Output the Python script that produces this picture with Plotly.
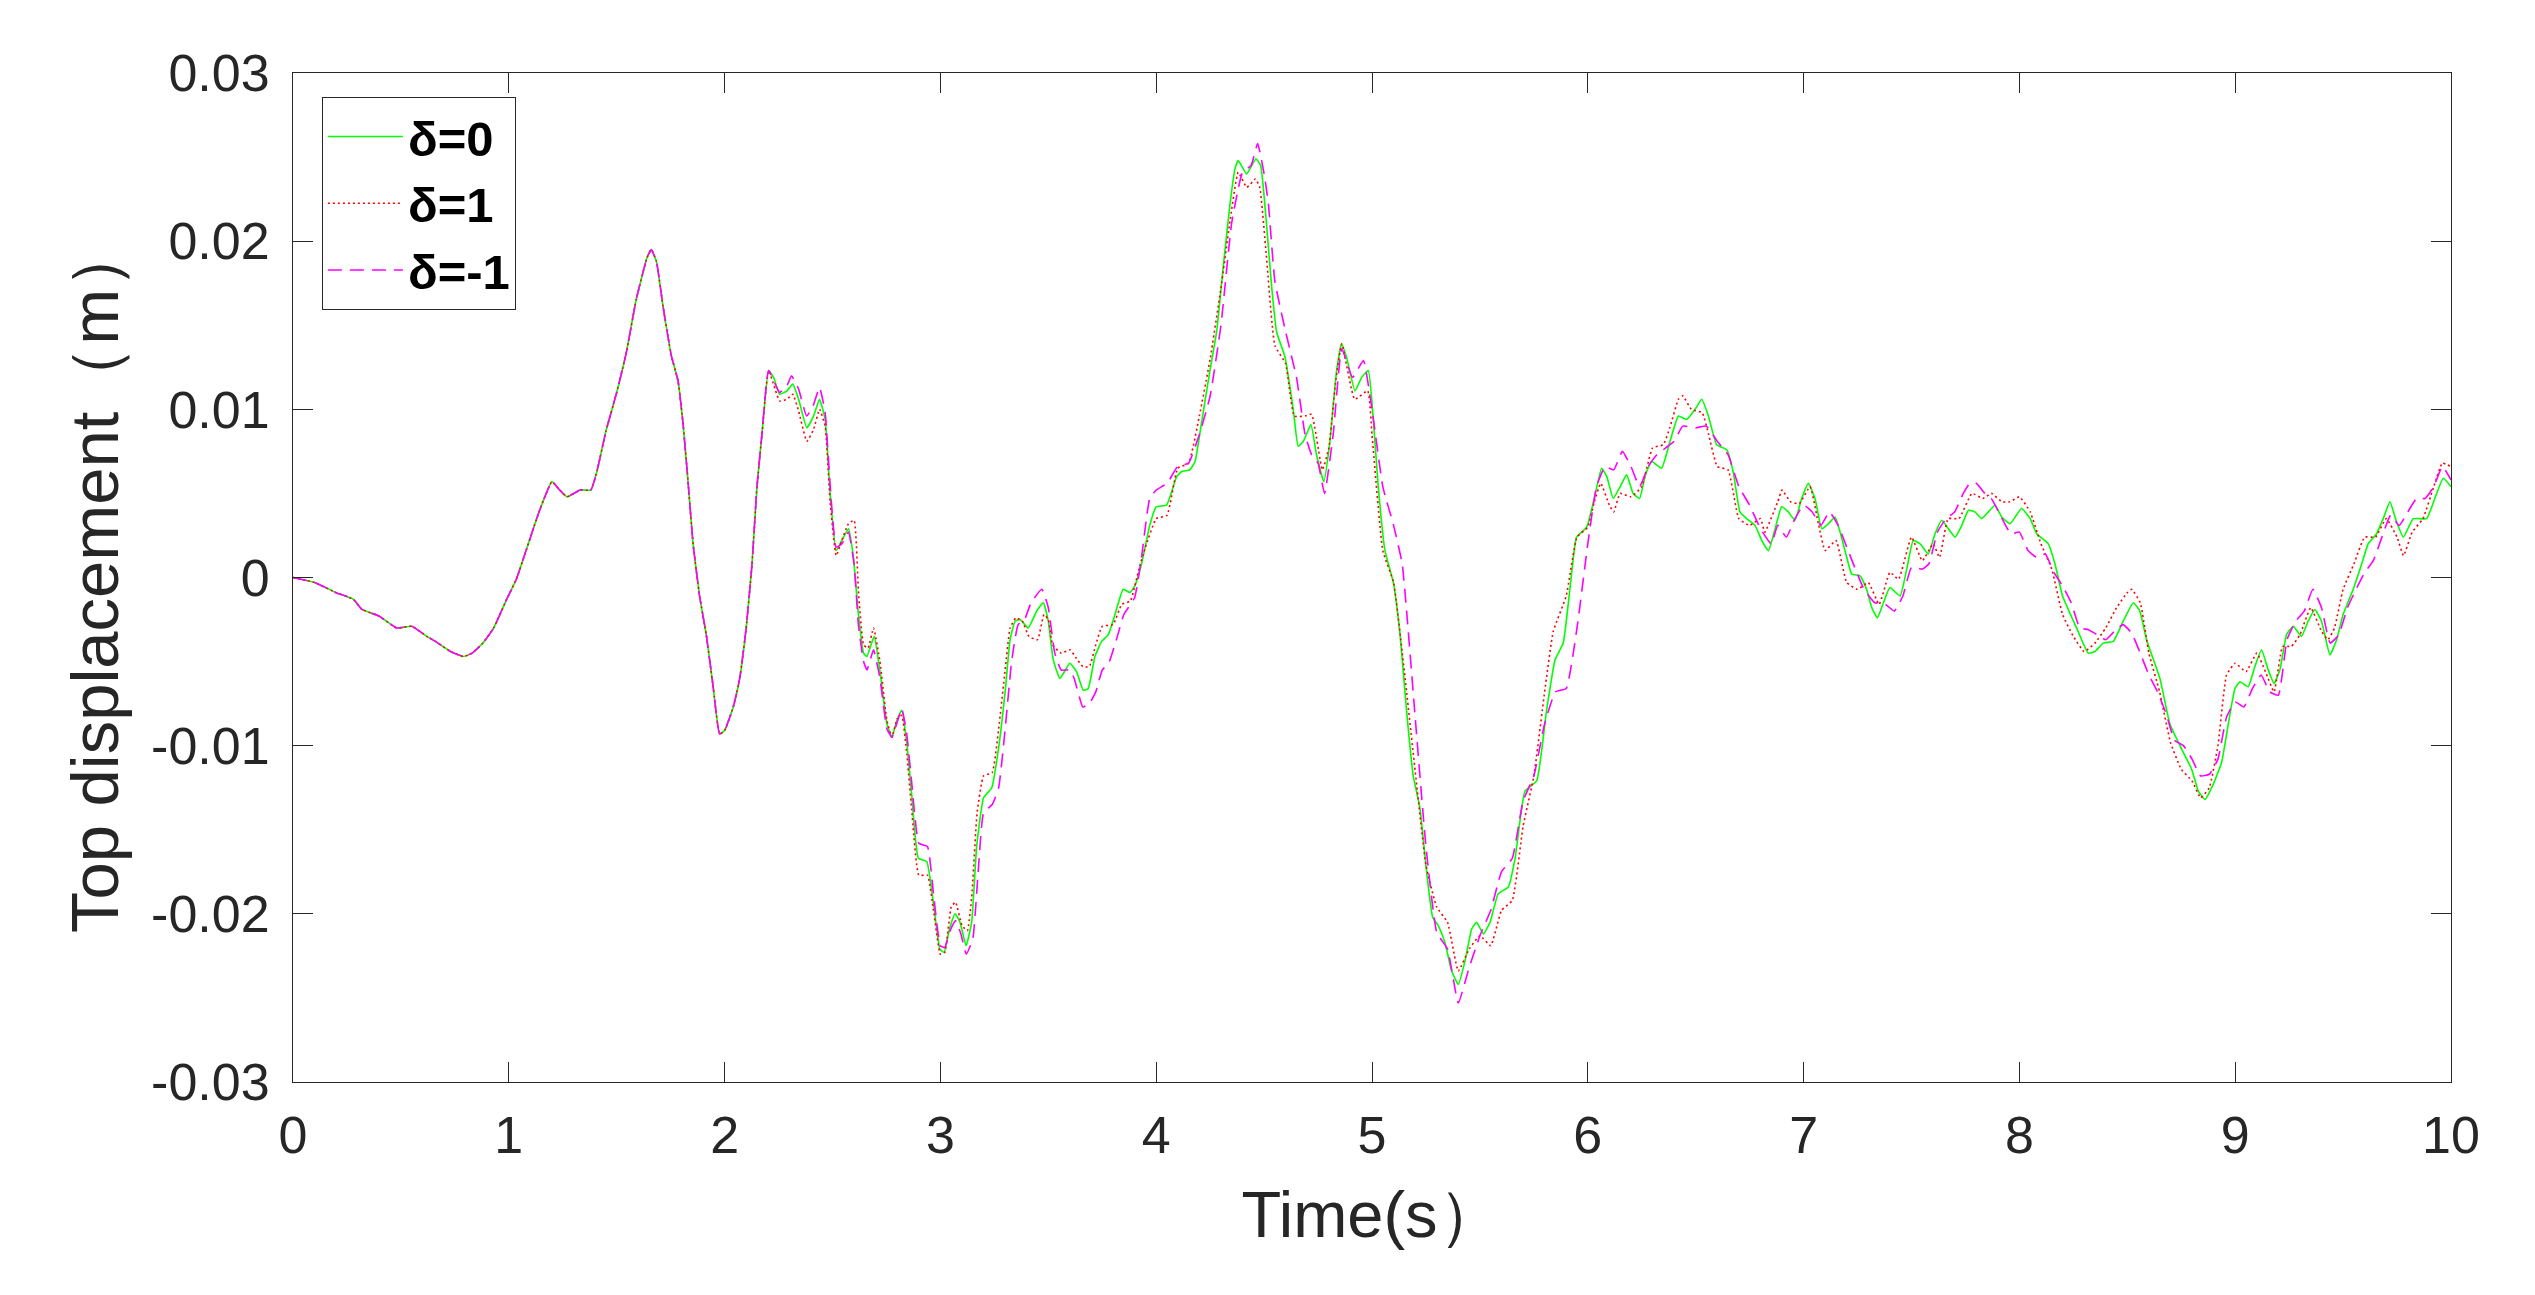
import plotly.graph_objects as go

# ---- data ----
# segment 0 - 2.2 s where all three curves coincide
t_early = [0, 0.1, 0.2, 0.28, 0.32, 0.4, 0.48, 0.55, 0.62, 0.66, 0.73, 0.79, 0.83, 0.88, 0.93, 0.99,
           1.035, 1.08, 1.14, 1.2, 1.236, 1.27, 1.33, 1.38, 1.41, 1.45, 1.5, 1.545, 1.59, 1.64, 1.66,
           1.684, 1.715, 1.753, 1.784, 1.807, 1.83, 1.854, 1.884, 1.915, 1.946, 1.977, 2.0, 2.04, 2.07,
           2.10, 2.127, 2.15, 2.173]
y_early = [0, -0.0003, -0.0009, -0.0013, -0.0019, -0.0023, -0.003, -0.0029, -0.0035, -0.0038, -0.0044,
           -0.0047, -0.0045, -0.0039, -0.003, -0.0013, -0.0001, 0.0016, 0.0039, 0.0057, 0.0052, 0.0048,
           0.0052, 0.0052, 0.0064, 0.0087, 0.011, 0.0134, 0.0165, 0.019, 0.0195, 0.0188, 0.0161, 0.0132,
           0.0117, 0.0092, 0.0058, 0.002, -0.0011, -0.0034, -0.0064, -0.0093, -0.0091, -0.0077, -0.006,
           -0.003, 0.0008, 0.0054, 0.0085]

# delta = 0 (green, solid)
t_d0 = [2.204, 2.227, 2.255, 2.289, 2.316, 2.343, 2.381, 2.412, 2.44, 2.466, 2.489, 2.517, 2.543, 2.574,
        2.597, 2.62, 2.644, 2.659, 2.693, 2.72, 2.752, 2.775, 2.798, 2.821, 2.844, 2.867, 2.898, 2.937,
        2.968, 2.998, 3.017, 3.042, 3.068, 3.091, 3.119, 3.145, 3.168, 3.2, 3.238, 3.269, 3.3, 3.323,
        3.346, 3.369, 3.407, 3.446, 3.477, 3.5, 3.523, 3.554, 3.6, 3.631, 3.662, 3.685, 3.716, 3.747,
        3.778, 3.809, 3.847, 3.878, 3.901, 3.932, 3.97, 4.0, 4.048, 4.095, 4.118, 4.156, 4.18, 4.21,
        4.249, 4.28, 4.31, 4.342, 4.365, 4.38, 4.419, 4.462, 4.484, 4.508, 4.535, 4.558, 4.597, 4.635,
        4.658, 4.682, 4.717, 4.743, 4.777, 4.805, 4.836, 4.859, 4.882, 4.921, 4.952, 4.983, 5.006, 5.029,
        5.06, 5.099, 5.13, 5.16, 5.191, 5.222, 5.253, 5.281, 5.307, 5.338, 5.369, 5.4, 5.431, 5.462,
        5.485, 5.516, 5.547, 5.585, 5.632, 5.663, 5.709, 5.763, 5.809, 5.848, 5.886, 5.917, 5.948, 5.995,
        6.03, 6.064, 6.088, 6.118, 6.15, 6.18, 6.21, 6.24, 6.265, 6.296, 6.342, 6.381, 6.42, 6.458,
        6.497, 6.528, 6.559, 6.597, 6.644, 6.675, 6.705, 6.736, 6.775, 6.806, 6.837, 6.868, 6.898, 6.929,
        6.96, 6.991, 7.022, 7.053, 7.084, 7.115, 7.146, 7.169, 7.2, 7.223, 7.262, 7.292, 7.316, 7.342,
        7.37, 7.4, 7.447, 7.478, 7.508, 7.54, 7.578, 7.609, 7.64, 7.671, 7.702, 7.733, 7.764, 7.794,
        7.825, 7.856, 7.887, 7.918, 7.957, 8.01, 8.05, 8.08, 8.134, 8.165, 8.2, 8.265, 8.319, 8.35,
        8.388, 8.435, 8.481, 8.528, 8.558, 8.589, 8.651, 8.697, 8.744, 8.798, 8.829, 8.86, 8.898, 8.937,
        8.968, 8.999, 9.022, 9.06, 9.091, 9.122, 9.153, 9.18, 9.207, 9.238, 9.269, 9.307, 9.338, 9.369,
        9.4, 9.439, 9.47, 9.5, 9.547, 9.586, 9.616, 9.655, 9.686, 9.717, 9.748, 9.779, 9.825, 9.887,
        9.925, 9.964, 10.0]
y_d0 = [0.0123, 0.0119, 0.0109, 0.0111, 0.0115, 0.0106, 0.0089, 0.0096, 0.0106, 0.0094, 0.005, 0.0016,
        0.0022, 0.0029, 0.0012, -0.0022, -0.0045, -0.0047, -0.0035, -0.0056, -0.0087, -0.0095, -0.0085,
        -0.0079, -0.0098, -0.0129, -0.0167, -0.0169, -0.0194, -0.0221, -0.0223, -0.0209, -0.02, -0.0205,
        -0.0219, -0.0205, -0.016, -0.0131, -0.0125, -0.0102, -0.0068, -0.0037, -0.0026, -0.0025, -0.003,
        -0.002, -0.0015, -0.0026, -0.0049, -0.006, -0.0051, -0.0056, -0.0067, -0.0066, -0.0047, -0.0038,
        -0.0034, -0.0022, -0.0007, -0.0009, -0.0005, 0.0008, 0.0031, 0.0042, 0.0043, 0.006, 0.0063,
        0.0064, 0.0069, 0.0092, 0.0123, 0.0146, 0.0184, 0.0222, 0.0243, 0.0248, 0.024, 0.0249, 0.0245,
        0.0215, 0.0173, 0.0146, 0.0131, 0.01, 0.0078, 0.0081, 0.0091, 0.0073, 0.0057, 0.0081, 0.0123,
        0.0139, 0.0131, 0.0111, 0.0119, 0.0123, 0.0094, 0.0054, 0.0016, -0.0003, -0.0034, -0.0079,
        -0.0118, -0.0137, -0.0175, -0.0202, -0.0207, -0.0217, -0.0234, -0.0242, -0.0228, -0.0209,
        -0.0205, -0.0212, -0.0205, -0.0188, -0.0184, -0.0167, -0.0127, -0.0121, -0.0079, -0.0049,
        -0.0039, -0.0007, 0.0024, 0.003, 0.0047, 0.0065, 0.006, 0.0047, 0.0054, 0.0061, 0.005, 0.0047,
        0.006, 0.0069, 0.0065, 0.0081, 0.0096, 0.0094, 0.01, 0.0106, 0.0096, 0.0079, 0.0076, 0.0062,
        0.0039, 0.0035, 0.0031, 0.0022, 0.0016, 0.0029, 0.0042, 0.0039, 0.0034, 0.0047, 0.0056, 0.0047,
        0.0029, 0.0032, 0.0036, 0.0027, 0.0012, 0.0002, 0.0001, -0.0007, -0.0018, -0.0024, -0.0015,
        -0.0006, -0.0011, 0.0005, 0.0022, 0.002, 0.0014, 0.0026, 0.0034, 0.0029, 0.0024, 0.0031, 0.004,
        0.0039, 0.0035, 0.0039, 0.0043, 0.0036, 0.0032, 0.0041, 0.0035, 0.0026, 0.002, 0.0008, -0.0011,
        -0.003, -0.0045, -0.0044, -0.0039, -0.0038, -0.0026, -0.0015, -0.002, -0.0037, -0.006, -0.0087,
        -0.01, -0.0114, -0.0127, -0.0132, -0.0123, -0.011, -0.0087, -0.0066, -0.0062, -0.0065, -0.0053,
        -0.0043, -0.0055, -0.0063, -0.0055, -0.0034, -0.0029, -0.0035, -0.0026, -0.0019, -0.0026,
        -0.0046, -0.0037, -0.0022, -0.0007, 0.0008, 0.002, 0.0026, 0.0035, 0.0045, 0.0033, 0.0024,
        0.0035, 0.0035, 0.0047, 0.0059, 0.0054]

# delta = 1 (red, dotted)
t_d1 = [2.204, 2.255, 2.289, 2.316, 2.343, 2.381, 2.412, 2.44, 2.466, 2.489, 2.517, 2.543, 2.574, 2.6,
        2.62, 2.644, 2.665, 2.69, 2.72, 2.752, 2.775, 2.8, 2.821, 2.844, 2.867, 2.9, 2.94, 2.968, 3.0,
        3.02, 3.05, 3.07, 3.1, 3.125, 3.145, 3.17, 3.2, 3.24, 3.27, 3.3, 3.323, 3.35, 3.38, 3.41, 3.45,
        3.48, 3.5, 3.52, 3.56, 3.6, 3.63, 3.66, 3.69, 3.72, 3.75, 3.8, 3.84, 3.88, 3.92, 3.95, 4.0,
        4.05, 4.1, 4.15, 4.2, 4.25, 4.3, 4.34, 4.38, 4.42, 4.46, 4.48, 4.51, 4.55, 4.6, 4.64, 4.69,
        4.72, 4.77, 4.8, 4.83, 4.86, 4.92, 4.98, 5.0, 5.05, 5.1, 5.15, 5.2, 5.25, 5.3, 5.35, 5.4, 5.45,
        5.5, 5.55, 5.6, 5.65, 5.7, 5.75, 5.8, 5.84, 5.9, 5.95, 6.0, 6.03, 6.06, 6.1, 6.12, 6.15, 6.2,
        6.25, 6.3, 6.35, 6.38, 6.42, 6.44, 6.48, 6.53, 6.56, 6.6, 6.65, 6.7, 6.75, 6.8, 6.82, 6.88, 6.9,
        6.94, 6.98, 7.03, 7.07, 7.1, 7.15, 7.2, 7.25, 7.3, 7.35, 7.4, 7.44, 7.5, 7.55, 7.6, 7.63, 7.67,
        7.72, 7.78, 7.83, 7.87, 7.92, 7.956, 8.0, 8.05, 8.1, 8.15, 8.2, 8.25, 8.3, 8.35, 8.4, 8.45, 8.5,
        8.52, 8.56, 8.6, 8.65, 8.7, 8.75, 8.8, 8.84, 8.88, 8.92, 8.96, 9.0, 9.05, 9.1, 9.14, 9.18, 9.22,
        9.26, 9.3, 9.35, 9.4, 9.43, 9.46, 9.5, 9.55, 9.6, 9.65, 9.7, 9.75, 9.78, 9.82, 9.87, 9.92, 9.96,
        10.0]
y_d1 = [0.0123, 0.0105, 0.0106, 0.0109, 0.0099, 0.0081, 0.0088, 0.01, 0.009, 0.0045, 0.0013, 0.0022,
        0.0032, 0.0034, -0.0008, -0.004, -0.0042, -0.003, -0.005, -0.0085, -0.0095, -0.0084, -0.0082,
        -0.0105, -0.0138, -0.0177, -0.0177, -0.0198, -0.0224, -0.0223, -0.0196, -0.0193, -0.0207,
        -0.021, -0.019, -0.014, -0.0118, -0.0116, -0.009, -0.0055, -0.003, -0.0024, -0.0026, -0.0035,
        -0.0037, -0.0022, -0.0025, -0.004, -0.0045, -0.0043, -0.0048, -0.0053, -0.0053, -0.004, -0.0029,
        -0.0028, -0.0016, -0.0014, 0.0005, 0.0018, 0.0035, 0.0037, 0.0065, 0.0068, 0.0096, 0.013, 0.0172,
        0.021, 0.0241, 0.0232, 0.0237, 0.0232, 0.0192, 0.0138, 0.0127, 0.0096, 0.0096, 0.0097, 0.0064,
        0.0077, 0.0115, 0.0139, 0.0106, 0.0111, 0.0085, 0.0016, -0.0003, -0.0056, -0.0115, -0.0171,
        -0.0196, -0.0205, -0.0234, -0.0221, -0.0213, -0.0219, -0.0198, -0.0192, -0.0148, -0.0118,
        -0.0068, -0.0032, -0.0011, 0.0024, 0.003, 0.0045, 0.0056, 0.0043, 0.0039, 0.005, 0.0048, 0.0054,
        0.0077, 0.0079, 0.0089, 0.0106, 0.0108, 0.01, 0.0098, 0.0085, 0.0066, 0.0064, 0.0035, 0.0031,
        0.0035, 0.0027, 0.0045, 0.0052, 0.0045, 0.0044, 0.0054, 0.0031, 0.0016, 0.0022, -0.0003,
        -0.0007, -0.0003, -0.0016, 0.0003, -0.0001, 0.0024, 0.001, 0.002, 0.0012, 0.0035, 0.0035, 0.005,
        0.0047, 0.005, 0.0045, 0.0045, 0.0048, 0.0039, 0.002, 0.0005, -0.0022, -0.0035, -0.0044,
        -0.0039, -0.003, -0.0018, -0.0009, -0.0007, -0.0015, -0.0045, -0.0068, -0.0098, -0.0114,
        -0.0121, -0.0131, -0.0125, -0.01, -0.0058, -0.0051, -0.0056, -0.0045, -0.0056, -0.0068, -0.0041,
        -0.0041, -0.0034, -0.0018, -0.0032, -0.0037, -0.003, -0.0007, 0.0008, 0.0024, 0.0024, 0.0035,
        0.0024, 0.0013, 0.0027, 0.0035, 0.0054, 0.0068, 0.0066]

# delta = -1 (magenta, dashed)
t_dm1 = [2.204, 2.255, 2.289, 2.31, 2.343, 2.38, 2.41, 2.44, 2.466, 2.489, 2.517, 2.543, 2.574, 2.6,
         2.62, 2.644, 2.66, 2.69, 2.72, 2.752, 2.775, 2.8, 2.821, 2.844, 2.867, 2.9, 2.94, 2.968, 3.0,
         3.02, 3.045, 3.07, 3.095, 3.12, 3.15, 3.175, 3.2, 3.24, 3.27, 3.3, 3.33, 3.36, 3.39, 3.42, 3.47,
         3.5, 3.53, 3.56, 3.6, 3.62, 3.66, 3.69, 3.72, 3.75, 3.78, 3.82, 3.85, 3.9, 3.93, 3.97, 4.0,
         4.05, 4.1, 4.15, 4.2, 4.25, 4.3, 4.35, 4.4, 4.44, 4.47, 4.5, 4.52, 4.55, 4.6, 4.65, 4.69, 4.72,
         4.75, 4.78, 4.82, 4.86, 4.91, 4.96, 5.0, 5.05, 5.1, 5.14, 5.2, 5.25, 5.3, 5.35, 5.4, 5.45, 5.5,
         5.55, 5.6, 5.65, 5.7, 5.75, 5.8, 5.85, 5.9, 5.95, 6.0, 6.04, 6.08, 6.12, 6.16, 6.2, 6.24, 6.28,
         6.32, 6.36, 6.4, 6.44, 6.5, 6.55, 6.6, 6.65, 6.7, 6.75, 6.8, 6.85, 6.88, 6.92, 6.96, 7.0, 7.04,
         7.08, 7.12, 7.16, 7.2, 7.24, 7.28, 7.33, 7.38, 7.42, 7.46, 7.5, 7.55, 7.58, 7.62, 7.66, 7.7,
         7.74, 7.77, 7.8, 7.84, 7.87, 7.92, 7.96, 8.0, 8.04, 8.08, 8.12, 8.16, 8.2, 8.24, 8.28, 8.32,
         8.36, 8.4, 8.44, 8.48, 8.52, 8.56, 8.6, 8.64, 8.68, 8.72, 8.76, 8.8, 8.84, 8.88, 8.92, 8.96,
         9.0, 9.04, 9.08, 9.12, 9.16, 9.2, 9.24, 9.28, 9.32, 9.36, 9.4, 9.44, 9.48, 9.52, 9.56, 9.6,
         9.64, 9.68, 9.72, 9.76, 9.8, 9.84, 9.88, 9.92, 9.96, 10.0]
y_dm1 = [0.0123, 0.011, 0.0114, 0.012, 0.0112, 0.0096, 0.0102, 0.0113, 0.0098, 0.0055, 0.0018, 0.002,
         0.0027, 0.0008, -0.0028, -0.005, -0.0055, -0.0043, -0.006, -0.009, -0.0095, -0.0086, -0.0078,
         -0.0093, -0.0122, -0.0158, -0.016, -0.0188, -0.0219, -0.022, -0.021, -0.0204, -0.0212, -0.0224,
         -0.0215, -0.0175, -0.014, -0.0135, -0.0125, -0.009, -0.005, -0.0028, -0.0025, -0.0015,
         -0.0007, -0.0018, -0.0045, -0.0055, -0.0055, -0.006, -0.0077, -0.0075, -0.0068, -0.0055,
         -0.0051, -0.0035, -0.0022, -0.0012, 0.001, 0.0047, 0.0052, 0.0056, 0.0066, 0.0068, 0.0085,
         0.0108, 0.015, 0.0211, 0.0241, 0.0245, 0.0258, 0.024, 0.0222, 0.0176, 0.0146, 0.0119, 0.0085,
         0.0073, 0.0068, 0.005, 0.0085, 0.0136, 0.0119, 0.0129, 0.01, 0.0054, 0.0031, 0.0008, -0.0083,
         -0.016, -0.0211, -0.0221, -0.0253, -0.0232, -0.0213, -0.0198, -0.0175, -0.0167, -0.0133,
         -0.0118, -0.0087, -0.0068, -0.0066, -0.003, 0.002, 0.0054, 0.0066, 0.0064, 0.0075, 0.0066,
         0.0054, 0.0066, 0.0073, 0.0077, 0.0081, 0.009, 0.0089, 0.009, 0.0081, 0.0073, 0.0054, 0.0043,
         0.0029, 0.002, 0.0031, 0.0024, 0.0035, 0.0043, 0.0039, 0.0031, 0.0039, 0.0031, 0.0018, 0.0005,
         -0.0007, -0.0015, -0.0016, -0.002, -0.0011, 0.0006, 0.0005, 0.0008, 0.0027, 0.0035, 0.0039,
         0.005, 0.0056, 0.0056, 0.005, 0.0047, 0.0035, 0.0026, 0.0027, 0.0016, 0.0012, 0.0014, 0.0003,
         -0.0005, -0.0015, -0.003, -0.0031, -0.0034, -0.0037, -0.0032, -0.0028, -0.0033, -0.0045,
         -0.0058, -0.0068, -0.0081, -0.0097, -0.01, -0.0108, -0.0118, -0.0117, -0.0108, -0.0083,
         -0.0074, -0.0077, -0.0066, -0.0058, -0.0068, -0.007, -0.0037, -0.0026, -0.002, -0.0007,
         -0.0018, -0.0039, -0.0034, -0.0018, -0.0007, 0.0003, 0.001, 0.0024, 0.0037, 0.0031, 0.0039,
         0.0047, 0.0047, 0.0054, 0.0066, 0.0058]

series_names = ["δ=0", "δ=1", "δ=-1"]
x_ticks = [0, 1, 2, 3, 4, 5, 6, 7, 8, 9, 10]
x_ticktext = ["0", "1", "2", "3", "4", "5", "6", "7", "8", "9", "10"]
y_ticks = [-0.03, -0.02, -0.01, 0, 0.01, 0.02, 0.03]
y_ticktext = ["-0.03", "-0.02", "-0.01", "0", "0.01", "0.02", "0.03"]

FONT = "Liberation Sans, Arial, Helvetica, sans-serif"
AX = "#262626"

fig = go.Figure()
fig.add_trace(go.Scatter(x=t_early + t_d0, y=y_early + y_d0, mode="lines", name=series_names[0],
                         line=dict(color="#00FF00", width=1.6, dash="solid", shape="spline", smoothing=0.4)))
fig.add_trace(go.Scatter(x=t_early + t_d1, y=y_early + y_d1, mode="lines", name=series_names[1],
                         line=dict(color="#FF0000", width=1.6, dash="2px,3px", shape="spline", smoothing=0.4)))
fig.add_trace(go.Scatter(x=t_early + t_dm1, y=y_early + y_dm1, mode="lines", name=series_names[2],
                         line=dict(color="#FF00FF", width=1.6, dash="14px,8px", shape="spline", smoothing=0.4)))

axis_common = dict(showline=True, linecolor=AX, linewidth=1, mirror="allticks", ticks="inside",
                   ticklen=20, tickwidth=1, tickcolor=AX, showgrid=False, zeroline=False,
                   tickfont=dict(family=FONT, size=52, color=AX), automargin=False)

fig.update_xaxes(range=[0, 10], tickvals=x_ticks, ticktext=x_ticktext, ticklabelstandoff=8,
                 title=dict(text="Time(s）", font=dict(family=FONT, size=65, color=AX), standoff=28),
                 **axis_common)
fig.update_yaxes(range=[-0.03, 0.03], tickvals=y_ticks, ticktext=y_ticktext, ticklabelstandoff=12,
                 title=dict(text="Top displacement（m）", font=dict(family=FONT, size=67, color=AX), standoff=10),
                 **axis_common)

# the page body has an 8px margin, so the figure is 16px smaller than the window
fig.update_layout(
    width=2519, height=1279,
    margin=dict(l=285, r=76, t=65, b=205),
    paper_bgcolor="white", plot_bgcolor="white",
    font=dict(family=FONT, color=AX),
    legend=dict(x=0.0134, y=0.976, xanchor="left", yanchor="top",
                bgcolor="white", bordercolor=AX, borderwidth=1,
                font=dict(family=FONT, size=49, color="black", weight="bold"),
                itemwidth=75, tracegroupgap=0),
    showlegend=True,
)

fig.write_html("out.html")
